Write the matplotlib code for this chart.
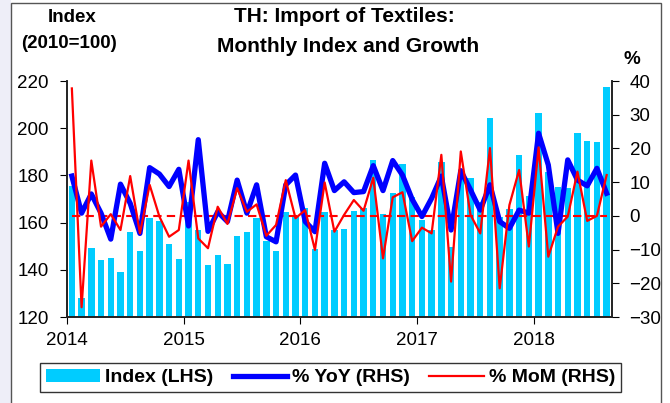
import numpy as np
import matplotlib.pyplot as plt
from matplotlib.patches import Rectangle

plt.rcParams['font.family'] = ['Liberation Sans', 'DejaVu Sans']

# monthly data, Jan 2014 - Aug 2018
years = ["2014", "2015", "2016", "2017", "2018"]
index_vals = [175.6, 128.0, 149.2, 144.2, 145.0, 139.0, 156.0, 148.0, 162.0, 160.8, 151.0, 144.7,
              168.6, 157.0, 142.0, 146.3, 142.6, 154.3, 156.0, 162.0, 152.2, 148.1, 164.3, 162.5,
              166.2, 149.0, 164.3, 156.7, 157.1, 164.9, 166.0, 186.4, 163.6, 172.4, 184.8, 171.0,
              161.0, 156.8, 185.8, 149.8, 180.0, 179.0, 168.9, 204.2, 162.5, 165.6, 188.6, 171.3,
              206.4, 181.4, 175.1, 174.8, 197.8, 194.6, 194.2, 217.6]
yoy = [11.8, 0.8, 6.5, 0.8, -6.9, 9.4, 3.7, -5.2, 14.3, 12.4, 8.7, 13.8,
       -3.0, 22.6, -4.6, 1.2, -1.7, 10.6, 0.8, 9.2, -6.2, -7.7, 9.2, 12.1,
       -1.7, -4.7, 15.6, 7.5, 10.1, 6.9, 7.2, 14.9, 7.5, 16.4, 12.1, 4.9,
       -0.2, 5.2, 11.8, -4.2, 13.4, 7.7, 1.7, 9.2, -1.7, -3.7, 1.7, 0.8,
       24.5, 15.1, -5.2, 16.6, 10.6, 8.9, 14.1, 6.7]
mom = [37.8, -27.1, 16.4, -3.2, 0.5, -4.2, 11.8, -5.2, 9.2, -0.2, -6.2, -4.2,
       16.4, -6.7, -9.6, 2.7, -2.4, 8.2, 1.2, 3.4, -5.9, -2.7, 10.6, -0.7,
       1.7, -10.1, 9.9, -4.7, 0.3, 4.7, 1.5, 11.3, -12.6, 5.5, 7.0, -7.5,
       -3.5, -5.2, 18.1, -19.5, 19.1, 0.3, -5.2, 20.1, -21.5, 3.2, 13.6, -9.1,
       20.3, -12.1, -3.2, -0.2, 13.1, -1.5, 0.0, 12.1]

x = np.arange(len(index_vals)) + 0.5

fig = plt.figure(figsize=(6.7, 4.03), dpi=100)
fig.patch.set_facecolor('white')
# background strip and panel border
fig.patches.append(Rectangle((0, 0), 11 / 670, 1, transform=fig.transFigure,
                             facecolor='#eeeef8', edgecolor='none', zorder=0))
fig.patches.append(Rectangle((11 / 670, -0.01), 650 / 670, 0.003 + 1 - 3 / 403 + 0.007,
                             transform=fig.transFigure, facecolor='none',
                             edgecolor='#555555', linewidth=1.0, zorder=1))

ax = fig.add_axes([67 / 670, 1 - 317 / 403, 544.5 / 670, 236 / 403])
ax2 = ax.twinx()

bars = ax.bar(x, index_vals, width=0.66, color='#00ccff', label='Index (LHS)', zorder=2)
ax.set_ylim(120, 220)
ax.set_yticks(np.arange(120, 221, 20))
ax.set_xlim(0, 56)
ax.set_xticks([0, 12, 24, 36, 48])
ax.set_xticklabels(years)

ax2.plot([0.5, 55.5], [0, 0], color='#ff0000', linestyle=(0, (4, 2.5)), linewidth=1.5)
l1, = ax2.plot(x, yoy, color='#0000ff', linewidth=3.8, label='% YoY (RHS)')
l2, = ax2.plot(x, mom, color='#ff0000', linewidth=1.6, label='% MoM (RHS)')
ax2.set_ylim(-30, 40)
ax2.set_yticks(np.arange(-30, 41, 10))

for a in (ax, ax2):
    a.spines['top'].set_visible(False)
    for s in a.spines.values():
        s.set_color('#222222')
        s.set_linewidth(1.2)
ax.tick_params(axis='y', direction='out', length=5, pad=8, labelsize=13.5)
ax.tick_params(axis='x', direction='out', length=5, pad=6, labelsize=13.5)
ax2.tick_params(axis='y', direction='out', length=5, pad=8, labelsize=13.5)

fig.text(72 / 670, 1 - 17 / 403, "Index", ha='center', va='center',
         fontsize=13.5, fontweight='bold')
fig.text(69 / 670, 1 - 44 / 403, "(2010=100)", ha='center', va='center',
         fontsize=13.5, fontweight='bold')
fig.text(344 / 670, 1 - 17 / 403, "TH: Import of Textiles:", ha='center', va='center',
         fontsize=15, fontweight='bold')
fig.text(348 / 670, 1 - 46 / 403, "Monthly Index and Growth", ha='center', va='center',
         fontsize=15, fontweight='bold')
fig.text(632 / 670, 1 - 60 / 403, "%", ha='center', va='center',
         fontsize=13.5, fontweight='bold')

leg = fig.legend([bars, l1, l2], ['Index (LHS)', '% YoY (RHS)', '% MoM (RHS)'],
                 loc='center', bbox_to_anchor=(330.5 / 670, 1 - 377.5 / 403), ncol=3,
                 fancybox=False, edgecolor='#333333', framealpha=1,
                 prop={'weight': 'bold', 'size': 14}, handlelength=2.8,
                 handletextpad=0.25, columnspacing=1.0, borderpad=0.3)
leg.get_frame().set_linewidth(1.0)

fig.savefig('out.png', dpi=100)
